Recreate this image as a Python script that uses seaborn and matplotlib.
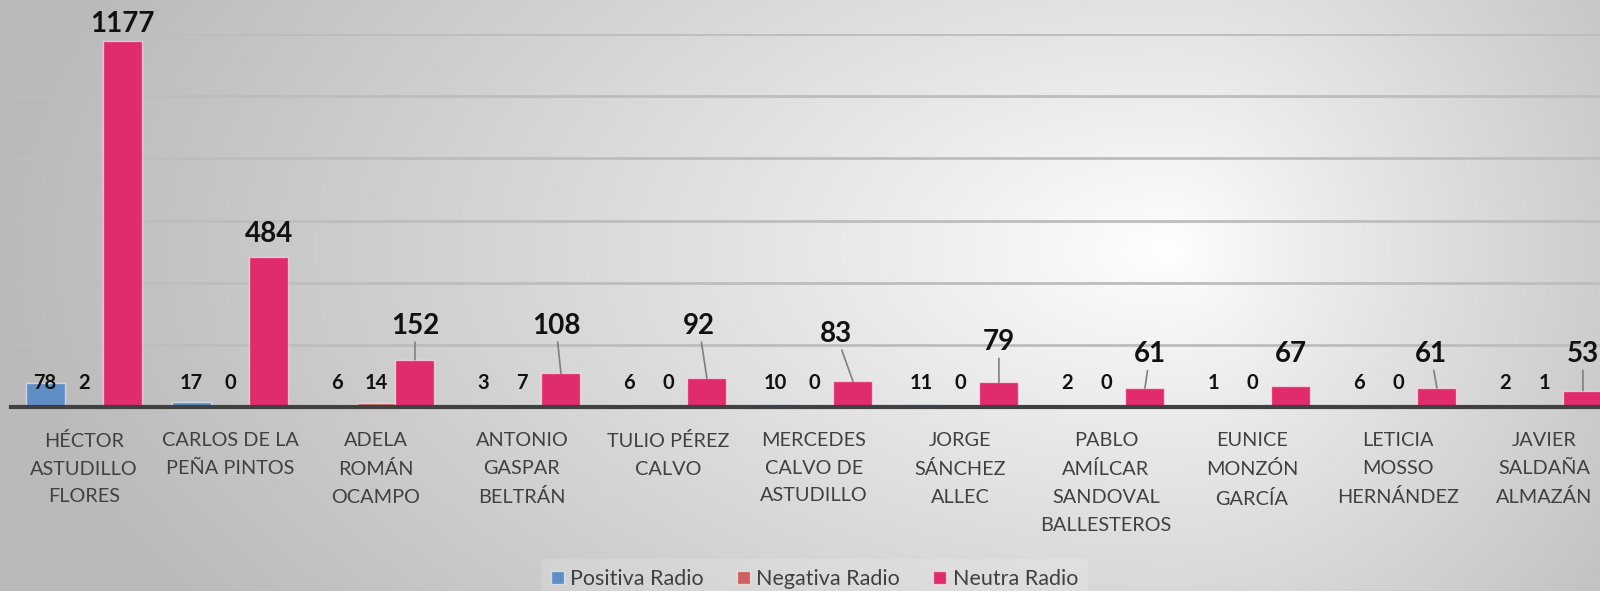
import numpy as np
import pandas as pd
import matplotlib.pyplot as plt
import seaborn as sns
from matplotlib.patches import Patch

# Data
candidatos = [
    "HÉCTOR\nASTUDILLO\nFLORES",
    "CARLOS DE LA\nPEÑA PINTOS",
    "ADELA\nROMÁN\nOCAMPO",
    "ANTONIO\nGASPAR\nBELTRÁN",
    "TULIO PÉREZ\nCALVO",
    "MERCEDES\nCALVO DE\nASTUDILLO",
    "JORGE\nSÁNCHEZ\nALLEC",
    "PABLO\nAMÍLCAR\nSANDOVAL\nBALLESTEROS",
    "EUNICE\nMONZÓN\nGARCÍA",
    "LETICIA\nMOSSO\nHERNÁNDEZ",
    "JAVIER\nSALDAÑA\nALMAZÁN",
]
positiva = [78, 17, 6, 3, 6, 10, 11, 2, 1, 6, 2]
negativa = [2, 0, 14, 7, 0, 0, 0, 0, 0, 0, 1]
neutra = [1177, 484, 152, 108, 92, 83, 79, 61, 67, 61, 53]
series = ["Positiva Radio", "Negativa Radio", "Neutra Radio"]
colores = ["#5F8DC6", "#CB625F", "#E02B6C"]

# where Excel put the "Neutra" labels (x shift in categories, y centre in data units)
neutra_dx = [0, 0, 0, -0.034, -0.055, -0.116, 0, 0.034, 0, -0.041, 0]
neutra_y = [1232, 556, 261, 261, 261, 235, 209, 170, 170, 170, 170]
con_linea = [False, False, True, True, True, True, True, True, False, True, True]

sns.set_style("white")
plt.rcParams["font.family"] = ["Lato", "DejaVu Sans"]

df = pd.DataFrame({
    "candidato": candidatos * 3,
    "serie": np.repeat(series, len(candidatos)),
    "valor": positiva + negativa + neutra,
})

fig = plt.figure(figsize=(16, 5.91), dpi=100)

# radial grey background, light spot right of centre
bg = fig.add_axes([0, 0, 1, 1], zorder=0)
h, w = 591, 1600
yy, xx = np.mgrid[0:h, 0:w]
cx, cy = 1170, 250
sx = np.where(xx < cx, 1170.0, 620.0)
d = np.sqrt(((xx - cx) / sx) ** 2 + ((yy - cy) / 650.0) ** 2)
val = 1 - 0.27 * np.clip(d, 0, 1) ** 0.9
bg.imshow(np.dstack([val] * 3), aspect="auto", interpolation="bilinear")
bg.axis("off")

ax = fig.add_axes([11 / 1600, 184 / 591, 1606 / 1600, 373 / 591], zorder=1)
ax.set_facecolor("none")
sns.barplot(data=df, x="candidato", y="valor", hue="serie", palette=colores,
            saturation=1, width=0.8, edgecolor=(1, 1, 1, 0.55), linewidth=1,
            legend=False, ax=ax, zorder=3)

ax.set_xlim(-0.5, 10.5)
ax.set_ylim(0, 1200)
ax.set_yticks(range(0, 1201, 200))
ax.set_axisbelow(True)
ax.yaxis.grid(True, color="#bdbdbd", lw=2)
ax.xaxis.grid(False)
ax.tick_params(axis="y", left=False, labelleft=False)
ax.tick_params(axis="x", length=0, pad=18, labelsize=14.3, labelcolor="#404040")
for t in ax.get_xticklabels():
    t.set_linespacing(1.76)
ax.set_xlabel("")
ax.set_ylabel("")
for s in ["top", "left", "right"]:
    ax.spines[s].set_visible(False)
ax.spines["bottom"].set_color("#404040")
ax.spines["bottom"].set_linewidth(3)
ax.spines["bottom"].set_zorder(4)

# small labels for positiva / negativa
for cont, vals in zip(ax.containers[:2], [positiva, negativa]):
    for bar, v in zip(cont, vals):
        x = bar.get_x() + bar.get_width() / 2
        ax.text(x, 77, str(v), ha="center", va="center", fontsize=14.5,
                fontweight="bold", color="#111111", zorder=5)

# big labels for neutra, some with leader lines
for i, (bar, v) in enumerate(zip(ax.containers[2], neutra)):
    x = bar.get_x() + bar.get_width() / 2
    props = None
    if con_linea[i]:
        props = dict(arrowstyle="-", color="#7f7f7f", lw=1.2, shrinkA=0, shrinkB=0)
    ax.annotate(str(v), xy=(x, v), xytext=(x + neutra_dx[i], neutra_y[i]),
                textcoords="data", ha="center", va="center", fontsize=20,
                fontweight="bold", color="#111111", arrowprops=props,
                annotation_clip=False, zorder=5)

handles = [Patch(facecolor=c, edgecolor=(1, 1, 1, 0.55)) for c in colores]
leg = fig.legend(handles, series, loc="center", bbox_to_anchor=(0.509, 0.02),
                 ncol=3, fontsize=15.5, handlelength=0.6, handleheight=0.6,
                 handletextpad=0.3, columnspacing=1.55, frameon=True,
                 borderpad=0.45, facecolor="white", edgecolor="none",
                 framealpha=0.15, fancybox=False, labelcolor="#404040")

fig.savefig("out.png", dpi=100)
